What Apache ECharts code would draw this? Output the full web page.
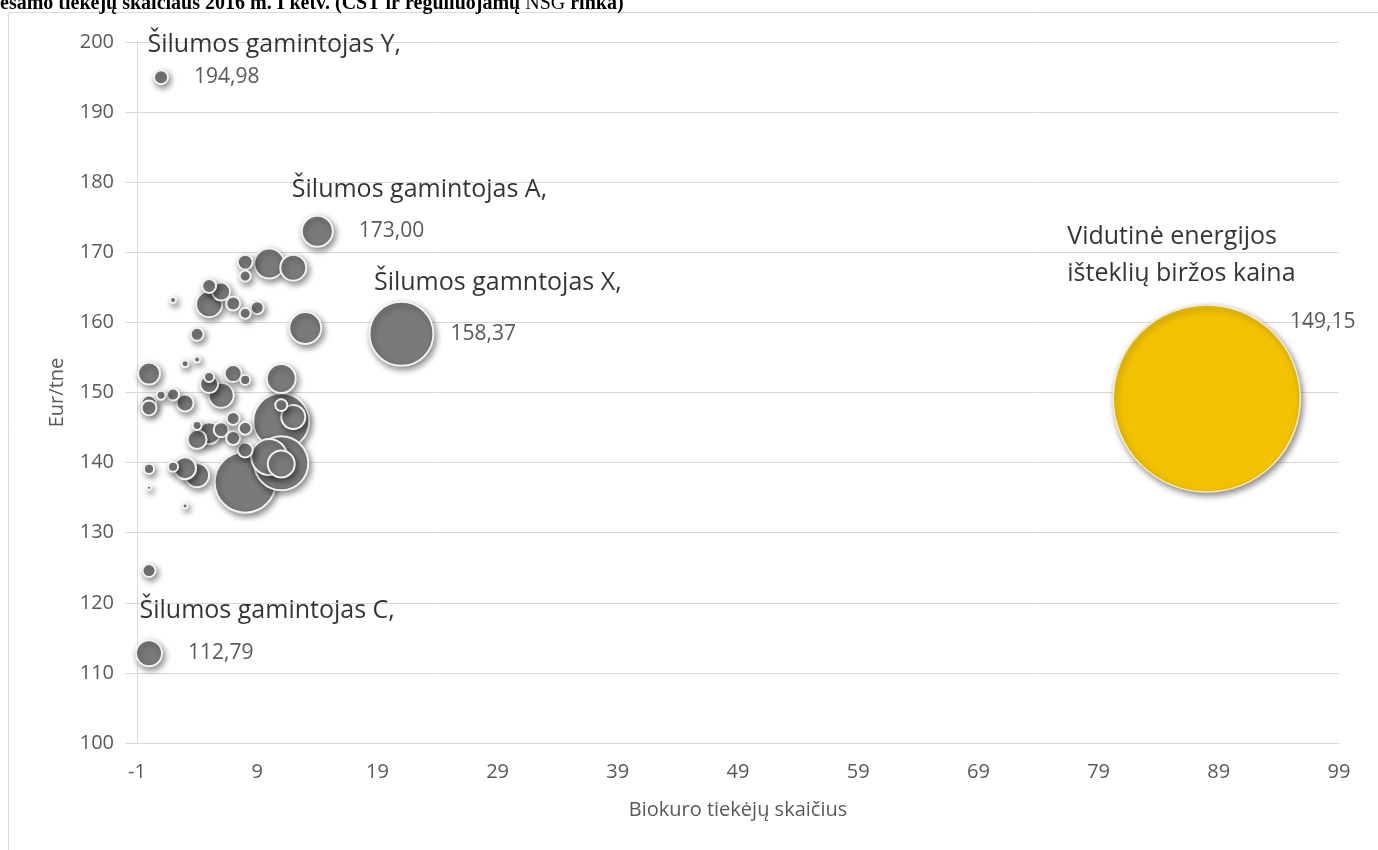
<!DOCTYPE html>
<html>
<head>
<meta charset="utf-8">
<script src="https://cdn.jsdelivr.net/npm/echarts@6/dist/echarts.min.js"></script>
<style>
  html, body { margin: 0; padding: 0; background: #ffffff; }
  #chart { width: 1378px; height: 850px; }
</style>
</head>
<body>
<div id="chart"></div>
<script>
// ---------- DATA ----------
// Labelled heat producers: [supplier count, price Eur/tne, bubble size (purchase volume, relative)]
const labelledNames = ['Šilumos gamintojas Y,', 'Šilumos gamintojas A,', 'Šilumos gamntojas X,', 'Šilumos gamintojas C,'];
const labelledX     = [1, 14, 21, 0];
const labelledY     = [194.98, 173.00, 158.37, 112.79];
const labelledSize  = [56, 275, 1171, 193];

// Other heat producers (unlabelled)
const otherX = [0, 2, 8, 8, 10, 12, 5, 6, 5, 7, 8, 9, 13, 4, 3, 4, 0, 5, 7, 8, 5, 6, 11, 1, 2, 0, 0, 3,
                11, 11, 12, 4, 4, 5, 6, 7, 7, 8, 8, 11, 11, 10, 8, 0, 0, 3, 2, 3, 4];
const otherY = [124.6, 163.2, 168.6, 166.6, 168.4, 167.8, 165.2, 164.4, 162.6, 162.7, 161.3, 162.1, 159.2, 158.3,
                154.1, 154.7, 152.7, 152.2, 152.7, 151.8, 151.2, 149.6, 152.0, 149.6, 149.7, 148.5, 147.8, 148.5,
                145.9, 148.2, 146.5, 145.3, 143.3, 144.2, 144.7, 143.5, 146.3, 144.9, 141.8, 139.9, 139.8, 140.8,
                137.2, 139.1, 136.4, 133.8, 139.4, 139.2, 138.2];
const otherSize = [48, 10, 64, 35, 257, 193, 56, 93, 193, 56, 35, 48, 293, 48,
                   14, 10, 138, 29, 83, 29, 93, 179, 240, 23, 41, 64, 64, 83,
                   897, 41, 165, 23, 103, 138, 64, 56, 48, 48, 64, 834, 208, 371,
                   1064, 29, 5, 7, 29, 138, 165];

// Average energy exchange price
const marketName = 'Vidutinė energijos\ništeklių biržos kaina';
const marketX = 88;
const marketY = 149.15;
const marketSize = 10000;

// Axis ticks
const xTicks = [-1, 9, 19, 29, 39, 49, 59, 69, 79, 89, 99];
const yMin = 100, yMax = 200, yStep = 10;

const titleText = 'esamo tiekėjų skaičiaus 2016 m. I ketv. (CŠT ir reguliuojamų ';
const titleAbbr = 'NSG';
const titleEnd = ' rinka)';
const xName = 'Biokuro tiekėjų skaičius';
const yName = 'Eur/tne';

// ---------- CHART ----------
const FONT = '"Open Sans", "Noto Sans", sans-serif';
const bubbleScale = 1.87;
const sizeFn = (v) => Math.sqrt(v[2]) * bubbleScale;
const fmt = (v) => v.toFixed(2).replace('.', ',');

const grey = '#7A7A7A';
const shadow = { shadowColor: 'rgba(0,0,0,0.45)', shadowBlur: 6, shadowOffsetX: 2, shadowOffsetY: 3 };

// gray bubbles: build and order large to small so small ones are on top
const greyPts = [];
otherX.forEach((x, i) => greyPts.push({ value: [x, otherY[i], otherSize[i]] }));
const valueDistance = [25, 25, 16, 25];
labelledX.forEach((x, i) => greyPts.push({
  value: [x, labelledY[i], labelledSize[i]],
  label: { show: true, position: 'right', distance: valueDistance[i], formatter: fmt(labelledY[i]) }
}));
greyPts.sort((a, b) => b.value[2] - a.value[2]);

// name labels offsets (style only)
const nameOffsets = [[-13, -32], [-25, -41], [-27, -50], [-9, -42]];
const namePts = labelledX.map((x, i) => ({
  value: [x, labelledY[i], 1],
  label: { show: true, position: nameOffsets[i], formatter: labelledNames[i] }
}));
namePts.push({
  value: [marketX, marketY, 1],
  label: { show: true, position: [-139, -143], formatter: marketName, lineHeight: 37 }
});

const chart = echarts.init(document.getElementById('chart'), null, { renderer: 'canvas' });
chart.setOption({
  animation: false,
  backgroundColor: '#ffffff',
  textStyle: { fontFamily: FONT },
  graphic: [
    { type: 'rect', z: -10, silent: true,
      shape: { x: 8.5, y: 12.5, width: 1500, height: 1000 },
      style: { fill: '#ffffff', stroke: '#D9D9D9', lineWidth: 1 } },
    { type: 'text', left: 0, top: -6, z: 10, silent: true,
      style: {
        text: '{b|' + titleText + '}{n|' + titleAbbr + '}{b|' + titleEnd + '}',
        rich: {
          b: { fontFamily: '"Liberation Serif", "DejaVu Serif", serif', fontWeight: 'bold', fontSize: 20, fill: '#000' },
          n: { fontFamily: '"Liberation Serif", "DejaVu Serif", serif', fontWeight: 'normal', fontSize: 20, fill: '#000' }
        }
      } }
  ],
  grid: { left: 137, right: 39, top: 42, bottom: 107, containLabel: false },
  xAxis: {
    type: 'value', min: xTicks[0], max: xTicks[xTicks.length - 1],
    name: xName, nameLocation: 'middle', nameGap: 57,
    nameTextStyle: { fontSize: 20, color: '#595959', fontFamily: FONT },
    axisLine: { show: true, onZero: false, lineStyle: { color: '#D9D9D9', width: 1 } },
    axisTick: { show: false },
    splitLine: { show: false },
    axisLabel: { customValues: xTicks, fontSize: 20, color: '#595959', margin: 19, fontFamily: FONT }
  },
  yAxis: {
    type: 'value', min: yMin, max: yMax, interval: yStep,
    name: yName, nameLocation: 'middle', nameGap: 70, nameRotate: 90,
    nameTextStyle: { fontSize: 20, color: '#595959', fontFamily: FONT },
    axisLine: { show: true, onZero: false, lineStyle: { color: '#D9D9D9', width: 1 } },
    axisTick: { show: true, length: 12, lineStyle: { color: '#D9D9D9', width: 1 } },
    splitLine: { show: true, lineStyle: { color: '#D9D9D9', width: 1 } },
    axisLabel: { fontSize: 20, color: '#595959', margin: 23, fontFamily: FONT }
  },
  series: [
    {
      type: 'scatter', name: 'market', z: 2,
      data: [{
        value: [marketX, marketY, marketSize],
        label: { show: true, position: 'right', distance: 0, offset: [-11, -76], formatter: fmt(marketY) }
      }],
      symbolSize: sizeFn,
      itemStyle: Object.assign({ color: '#F2C200', borderColor: '#F4EBD0', borderWidth: 1.5, opacity: 1 }, shadow),
      label: { fontSize: 21, color: '#595959', fontFamily: FONT, align: 'left', verticalAlign: 'middle' },
      emphasis: { disabled: true }
    },
    {
      type: 'scatter', name: 'producers', z: 3,
      data: greyPts,
      symbolSize: sizeFn,
      itemStyle: Object.assign({ color: grey, borderColor: '#F2F2F2', borderWidth: 2, opacity: 1 }, shadow),
      label: { fontSize: 21, color: '#595959', fontFamily: FONT, align: 'left', verticalAlign: 'middle' },
      emphasis: { disabled: true }
    },
    {
      type: 'scatter', name: 'names', z: 4, silent: true,
      data: namePts,
      symbolSize: 1,
      itemStyle: { color: 'rgba(0,0,0,0)' },
      label: { fontSize: 25, color: '#000000', fontFamily: FONT, align: 'left', verticalAlign: 'middle' },
      emphasis: { disabled: true }
    }
  ]
});
</script>
</body>
</html>
